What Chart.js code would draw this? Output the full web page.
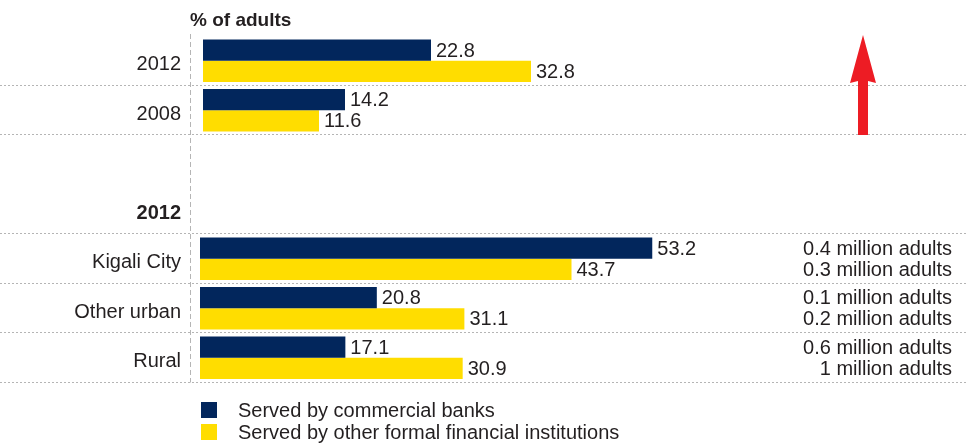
<!DOCTYPE html>
<html>
<head>
<meta charset="utf-8">
<script src="https://cdn.jsdelivr.net/npm/chart.js@4.4.1/dist/chart.umd.min.js"></script>
<style>
  html, body { margin: 0; padding: 0; background: #fff; }
</style>
</head>
<body>
<canvas id="myChart" width="968" height="443"></canvas>
<script>
var categories = ["2012", "2008", "", "2012", "Kigali City", "Other urban", "Rural"];
var banksTrend = [22.8, 14.2, null, null, null, null, null];
var otherTrend = [32.8, 11.6, null, null, null, null, null];
var banksRegion = [null, null, null, null, 53.2, 20.8, 17.1];
var otherRegion = [null, null, null, null, 43.7, 31.1, 30.9];
var adultsBanks = [null, null, null, null, "0.4 million adults", "0.1 million adults", "0.6 million adults"];
var adultsOther = [null, null, null, null, "0.3 million adults", "0.2 million adults", "1 million adults"];
var seriesNames = ["Served by commercial banks", "Served by other formal financial institutions"];
var axisTitle = "% of adults";

var navy = '#02265c';
var yellow = '#ffdd00';
var ink = '#231f20';
var fontName = "'Liberation Sans', Arial, sans-serif";

// lineas punteadas, flecha, titulo y leyenda
var extras = {
    id: 'extras',
    beforeDatasetsDraw: function(chart) {
        var c = chart.ctx;
        var y = chart.scales.y;
        var area = chart.chartArea;
        var step = y.getPixelForValue(1) - y.getPixelForValue(0);
        c.save();
        c.strokeStyle = '#b5b5b5';
        c.lineWidth = 1;
        c.setLineDash([2, 2]);
        [0, 1, 3, 4, 5, 6].forEach(function(i) {
            var py = Math.round(y.getPixelForValue(i) + step / 2) - 0.5;
            c.beginPath();
            c.moveTo(0, py);
            c.lineTo(chart.width, py);
            c.stroke();
        });
        c.setLineDash([5, 3]);
        c.beginPath();
        c.moveTo(area.left - 9.5, area.top - 2);
        c.lineTo(area.left - 9.5, area.bottom);
        c.stroke();
        c.restore();
    },
    afterDatasetsDraw: function(chart) {
        var c = chart.ctx;
        var y = chart.scales.y;
        var area = chart.chartArea;
        c.save();
        // valores al final de cada barra
        c.font = '20px ' + fontName;
        c.fillStyle = ink;
        c.textBaseline = 'middle';
        chart.data.datasets.forEach(function(ds, i) {
            chart.getDatasetMeta(i).data.forEach(function(bar, j) {
                if (ds.data[j] === null) return;
                c.textAlign = 'left';
                c.fillText(ds.data[j].toFixed(1), bar.x + 5, bar.y + 1);
            });
        });
        // numero de adultos a la derecha
        c.textAlign = 'right';
        [adultsBanks, adultsOther].forEach(function(list, k) {
            var meta = chart.getDatasetMeta(k + 2);
            list.forEach(function(txt, j) {
                if (!txt) return;
                c.fillText(txt, area.right - 8, meta.data[j].y + 1);
            });
        });
        // flecha roja
        var ax = area.right - 97;
        var tip = area.top - 1;
        var base = Math.round(y.getPixelForValue(1) + (y.getPixelForValue(1) - y.getPixelForValue(0)) / 2);
        c.fillStyle = '#ed1c24';
        c.beginPath();
        c.moveTo(ax, tip);
        c.lineTo(ax + 13, tip + 48);
        c.lineTo(ax + 5, tip + 46);
        c.lineTo(ax + 5, base);
        c.lineTo(ax - 5, base);
        c.lineTo(ax - 5, tip + 46);
        c.lineTo(ax - 13, tip + 48);
        c.closePath();
        c.fill();
        // titulo del eje
        c.fillStyle = ink;
        c.textAlign = 'left';
        c.textBaseline = 'alphabetic';
        c.font = 'bold 19px ' + fontName;
        c.fillText(axisTitle, area.left - 10, 26);
        // leyenda
        c.font = '20px ' + fontName;
        c.textBaseline = 'middle';
        [navy, yellow].forEach(function(col, k) {
            var ly = 410 + k * 22;
            c.fillStyle = col;
            c.fillRect(area.left + 1, ly - 8, 16, 16);
            c.fillStyle = ink;
            c.fillText(seriesNames[k], area.left + 38, ly + 1);
        });
        c.restore();
    }
};

var ctx = document.getElementById('myChart');
var myChart = new Chart(ctx, {
    type: 'bar',
    data: {
        labels: categories,
        datasets: [
            { label: seriesNames[0], data: banksTrend, backgroundColor: navy, xAxisID: 'x', skipNull: true },
            { label: seriesNames[1], data: otherTrend, backgroundColor: yellow, xAxisID: 'x', skipNull: true },
            { label: seriesNames[0], data: banksRegion, backgroundColor: navy, xAxisID: 'x2', skipNull: true },
            { label: seriesNames[1], data: otherRegion, backgroundColor: yellow, xAxisID: 'x2', skipNull: true }
        ]
    },
    options: {
        indexAxis: 'y',
        responsive: false,
        animation: false,
        categoryPercentage: 0.86,
        barPercentage: 1,
        layout: { padding: { top: 36, bottom: 60.5, left: 0, right: 8 } },
        scales: {
            x: { display: false, min: -0.3, max: 75.7 },
            x2: { display: false, min: 0, max: 89.4 },
            y: {
                grid: { display: false },
                border: { display: false },
                afterFit: function(scale) { scale.width = 200; },
                ticks: {
                    padding: 11,
                    labelOffset: 4,
                    color: ink,
                    font: function(c) {
                        return { family: fontName, size: 20, weight: c.index === 3 ? 'bold' : 'normal' };
                    }
                }
            }
        },
        plugins: {
            legend: { display: false },
            tooltip: { enabled: false }
        }
    },
    plugins: [extras]
});
</script>
</body>
</html>
